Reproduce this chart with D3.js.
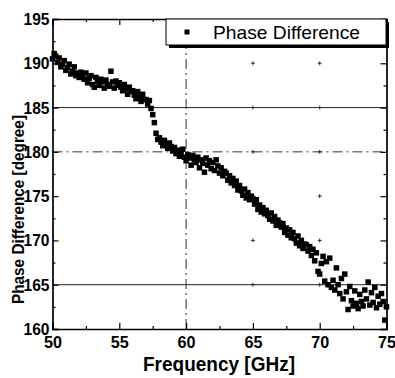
<!DOCTYPE html>
<html>
<head>
<meta charset="utf-8">
<script src="https://cdn.jsdelivr.net/npm/d3@7"></script>
<style>
  body { margin: 0; background: #fff; }
  svg { display: block; font-family: "Liberation Sans", Arial, sans-serif; }
  .axis path { stroke: #000; stroke-width: 1.7; }
  .axis line { stroke: #000; stroke-width: 1.2; }
  .axis text { font-weight: bold; font-size: 17px; fill: #000; }
</style>
</head>
<body>
<div id="chart"></div>
<script>
// Phase difference vs frequency (scatter)

var freq = [
  50.000, 50.125, 50.250, 50.375, 50.500, 50.625, 50.750, 50.875,
  51.000, 51.125, 51.250, 51.375, 51.500, 51.625, 51.750, 51.875,
  52.000, 52.125, 52.250, 52.375, 52.500, 52.625, 52.750, 52.875,
  53.000, 53.125, 53.250, 53.375, 53.500, 53.625, 53.750, 53.875,
  54.000, 54.125, 54.250, 54.375, 54.500, 54.625, 54.750, 54.875,
  55.000, 55.125, 55.250, 55.375, 55.500, 55.625, 55.750, 55.875,
  56.000, 56.125, 56.250, 56.375, 56.500, 56.625, 56.750, 56.875,
  57.000, 57.125, 57.250, 57.375, 57.500, 57.625, 57.750, 57.875,
  58.000, 58.125, 58.250, 58.375, 58.500, 58.625, 58.750, 58.875,
  59.000, 59.125, 59.250, 59.375, 59.500, 59.625, 59.750, 59.875,
  60.000, 60.125, 60.250, 60.375, 60.500, 60.625, 60.750, 60.875,
  61.000, 61.125, 61.250, 61.375, 61.500, 61.625, 61.750, 61.875,
  62.000, 62.125, 62.250, 62.375, 62.500, 62.625, 62.750, 62.875,
  63.000, 63.125, 63.250, 63.375, 63.500, 63.625, 63.750, 63.875,
  64.000, 64.125, 64.250, 64.375, 64.500, 64.625, 64.750, 64.875,
  65.000, 65.125, 65.250, 65.375, 65.500, 65.625, 65.750, 65.875,
  66.000, 66.125, 66.250, 66.375, 66.500, 66.625, 66.750, 66.875,
  67.000, 67.125, 67.250, 67.375, 67.500, 67.625, 67.750, 67.875,
  68.000, 68.125, 68.250, 68.375, 68.500, 68.625, 68.750, 68.875,
  69.000, 69.125, 69.250, 69.375, 69.500, 69.625, 69.750, 69.875,
  70.000, 70.125, 70.250, 70.375, 70.500, 70.625, 70.750, 70.875,
  71.000, 71.125, 71.250, 71.375, 71.500, 71.625, 71.750, 71.875,
  72.000, 72.125, 72.250, 72.375, 72.500, 72.625, 72.750, 72.875,
  73.000, 73.125, 73.250, 73.375, 73.500, 73.625, 73.750, 73.875,
  74.000, 74.125, 74.250, 74.375, 74.500, 74.625, 74.750, 74.875,
  75.000
];

var phaseDiff = [
  190.5, 191.1, 190.8, 190.1, 190.6, 189.6, 189.9, 190.3,
  189.2, 189.5, 189.9, 188.8, 189.1, 189.6, 188.6, 188.9,
  188.4, 189.0, 188.7, 188.2, 188.9, 187.8, 188.3, 188.6,
  187.6, 187.3, 188.4, 188.0, 187.5, 188.2, 187.9, 187.2,
  188.1, 187.6, 187.4, 189.1, 187.9, 187.2, 188.0, 187.5,
  187.8, 187.3, 186.9, 187.6, 187.1, 186.5, 187.3, 186.8,
  186.9, 186.4, 186.0, 186.8, 186.2, 185.7, 186.5, 185.9,
  185.9, 185.4, 185.8, 184.9, 184.2, 183.3, 182.1, 181.4,
  181.6, 181.1, 180.7, 181.3, 180.9, 180.4, 181.0, 180.6,
  180.1, 180.5, 179.8, 180.2, 179.5, 179.9, 180.3, 179.4,
  179.0, 179.7, 179.3, 178.5, 179.6, 179.1, 178.8, 179.4,
  178.2, 179.1, 178.7, 177.7, 179.3, 178.5, 179.0, 178.1,
  178.8, 177.9, 179.1, 178.4, 177.6, 178.2, 177.3, 177.8,
  177.6, 176.8, 177.3, 176.5, 177.0, 176.2, 176.7, 175.7,
  176.2, 175.6, 175.1, 175.8, 174.8, 175.4, 174.6, 175.0,
  174.7, 174.1, 174.6, 173.5, 174.0, 173.2, 173.7, 173.0,
  173.4, 172.8, 172.4, 173.1, 172.2, 172.7, 171.7, 172.3,
  172.0, 171.5, 171.9, 170.9, 171.4, 170.6, 171.2, 170.3,
  170.9, 170.2, 169.7, 170.5, 169.4, 170.0, 169.1, 169.6,
  169.5, 168.8, 169.3, 168.3, 169.0, 167.7, 168.6, 166.5,
  166.2, 167.4, 168.2, 165.4, 167.6, 165.0, 168.0, 164.7,
  165.5, 164.4, 166.9, 165.0, 164.0, 165.7, 163.4, 166.2,
  164.2, 162.2, 164.8, 163.2, 162.6, 164.3, 162.9, 162.3,
  163.9, 163.1, 162.6, 164.4, 163.4, 165.3, 162.7, 164.1,
  163.0, 164.7, 162.4, 163.7, 162.8, 164.0, 163.1, 161.0,
  162.5
];

var xTicks = [50, 55, 60, 65, 70, 75];
var xMinorTicks = [52.5, 57.5, 62.5, 67.5, 72.5];
var yTicks = [160, 165, 170, 175, 180, 185, 190, 195];
var yMinorTicks = [162.5, 167.5, 172.5, 177.5, 182.5, 187.5, 192.5];

var gridSolidY = [185, 165];
var gridDashY = [180];
var gridDashX = [60];
var crossX = [65, 70];
var crossY = [190, 185, 180, 175, 170, 165];

var legendLabel = "Phase Difference";
var xTitle = "Frequency [GHz]";
var yTitle = "Phase Difference [degree]";

(function() {
  var margin = { top: 19, left: 52.5, right: 8.5, bottom: 49 },
    width = 395 - margin.left - margin.right,
    height = 378 - margin.top - margin.bottom;

  var root = d3.select("#chart")
    .append("svg")
    .attr("width", 395)
    .attr("height", 378);

  var svg = root.append("g")
    .attr("transform", "translate(" + margin.left + "," + margin.top + ")");

  var xPositionScale = d3.scaleLinear().domain([50, 75]).range([0, width]);
  var yPositionScale = d3.scaleLinear().domain([160, 195]).range([height, 0]);

  // grid
  svg.selectAll(".grid-solid")
    .data(gridSolidY)
    .enter().append("line")
    .attr("x1", 0).attr("x2", width)
    .attr("y1", function(d) { return yPositionScale(d); })
    .attr("y2", function(d) { return yPositionScale(d); })
    .attr("stroke", "#222").attr("stroke-width", 1);

  svg.selectAll(".grid-dash-y")
    .data(gridDashY)
    .enter().append("line")
    .attr("x1", 0).attr("x2", width)
    .attr("y1", function(d) { return yPositionScale(d); })
    .attr("y2", function(d) { return yPositionScale(d); })
    .attr("stroke", "#333").attr("stroke-width", 1)
    .attr("stroke-dasharray", "10,4,2,4");

  svg.selectAll(".grid-dash-x")
    .data(gridDashX)
    .enter().append("line")
    .attr("y1", 0).attr("y2", height)
    .attr("x1", function(d) { return xPositionScale(d); })
    .attr("x2", function(d) { return xPositionScale(d); })
    .attr("stroke", "#333").attr("stroke-width", 1)
    .attr("stroke-dasharray", "10,4,2,4");

  var crosses = [];
  crossX.forEach(function(cx) {
    crossY.forEach(function(cy) { crosses.push([cx, cy]); });
  });

  var crossG = svg.selectAll(".cross")
    .data(crosses)
    .enter().append("g")
    .attr("transform", function(d) {
      return "translate(" + xPositionScale(d[0]) + "," + yPositionScale(d[1]) + ")";
    });
  crossG.append("line").attr("x1", -2).attr("x2", 2).attr("stroke", "#333");
  crossG.append("line").attr("y1", -2).attr("y2", 2).attr("stroke", "#333");

  // points
  var datapoints = freq.map(function(f, i) { return { f: f, v: phaseDiff[i] }; });
  var sz = 5.5;
  svg.selectAll(".pt")
    .data(datapoints)
    .enter().append("rect")
    .attr("class", "pt")
    .attr("x", function(d) { return xPositionScale(d.f) - sz / 2; })
    .attr("y", function(d) { return yPositionScale(d.v) - sz / 2; })
    .attr("width", sz)
    .attr("height", sz)
    .attr("fill", "#000");

  // axes, ticks pointing inward
  var xAxis = d3.axisBottom(xPositionScale).tickValues(xTicks).tickSize(-6).tickPadding(7);
  svg.append("g")
    .attr("class", "axis x-axis")
    .attr("transform", "translate(0," + height + ")")
    .call(xAxis)
    .selectAll("text").attr("textLength", 18).attr("lengthAdjust", "spacingAndGlyphs");

  svg.append("g")
    .attr("class", "axis")
    .attr("transform", "translate(0," + height + ")")
    .call(d3.axisBottom(xPositionScale).tickValues(xMinorTicks).tickSize(-3).tickFormat(""))
    .select(".domain").remove();

  var yAxis = d3.axisLeft(yPositionScale).tickValues(yTicks).tickSize(-6).tickPadding(3);
  svg.append("g")
    .attr("class", "axis y-axis")
    .call(yAxis)
    .selectAll("text").attr("textLength", 26).attr("lengthAdjust", "spacingAndGlyphs");

  svg.append("g")
    .attr("class", "axis")
    .call(d3.axisLeft(yPositionScale).tickValues(yMinorTicks).tickSize(-3).tickFormat(""))
    .select(".domain").remove();

  svg.append("g")
    .attr("class", "axis")
    .call(d3.axisTop(xPositionScale).tickValues(xTicks).tickSize(-6).tickFormat(""));
  svg.append("g")
    .attr("class", "axis")
    .call(d3.axisTop(xPositionScale).tickValues(xMinorTicks).tickSize(-3).tickFormat(""))
    .select(".domain").remove();

  svg.append("g")
    .attr("class", "axis")
    .attr("transform", "translate(" + width + ",0)")
    .call(d3.axisRight(yPositionScale).tickValues(yTicks).tickSize(-6).tickFormat(""));
  svg.append("g")
    .attr("class", "axis")
    .attr("transform", "translate(" + width + ",0)")
    .call(d3.axisRight(yPositionScale).tickValues(yMinorTicks).tickSize(-3).tickFormat(""))
    .select(".domain").remove();

  // axis titles
  root.append("text")
    .attr("x", 143)
    .attr("y", 371)
    .attr("font-size", 21)
    .attr("font-weight", "bold")
    .attr("textLength", 152)
    .attr("lengthAdjust", "spacingAndGlyphs")
    .text(xTitle);

  root.append("text")
    .attr("transform", "translate(24,304) rotate(-90)")
    .attr("font-size", 17)
    .attr("font-weight", "bold")
    .attr("textLength", 189)
    .attr("lengthAdjust", "spacingAndGlyphs")
    .text(yTitle);

  // legend with drop shadow
  var lg = root.append("g");
  lg.append("rect")
    .attr("x", 169).attr("y", 22).attr("width", 220).attr("height", 26)
    .attr("fill", "#000");
  lg.append("rect")
    .attr("x", 166).attr("y", 19).attr("width", 220).attr("height", 26)
    .attr("fill", "#fff").attr("stroke", "#000").attr("stroke-width", 1);
  lg.append("rect")
    .attr("x", 184.5).attr("y", 29.5).attr("width", 5).attr("height", 5)
    .attr("fill", "#000");
  lg.append("text")
    .attr("x", 213).attr("y", 39)
    .attr("font-size", 19)
    .attr("textLength", 147)
    .attr("lengthAdjust", "spacingAndGlyphs")
    .text(legendLabel);
})();
</script>
</body>
</html>
